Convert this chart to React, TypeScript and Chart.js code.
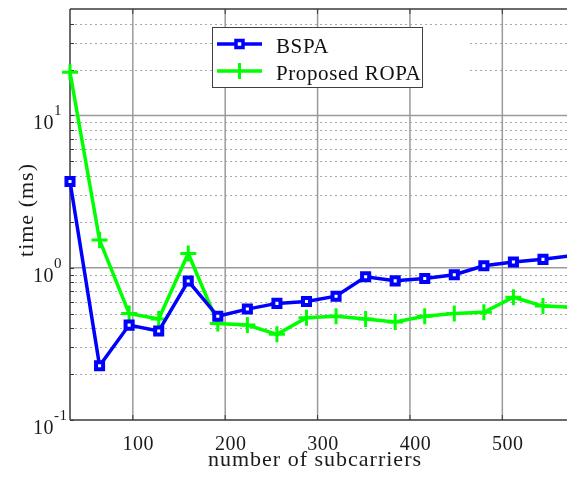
import React, { useEffect, useRef } from 'react';
import { Chart, registerables } from 'chart.js';

Chart.register(...registerables);

// ---------- data ----------
const subcarriers = [32, 64, 96, 128, 160, 192, 224, 256, 288, 320, 352, 384, 416, 448, 480, 512, 544, 576];
const bspaTime = [3.68, 0.227, 0.42, 0.384, 0.818, 0.48, 0.535, 0.583, 0.6, 0.65, 0.873, 0.82, 0.85, 0.9, 1.03, 1.09, 1.135, 1.2];
const ropaTime = [19.2, 1.52, 0.5, 0.46, 1.24, 0.43, 0.42, 0.365, 0.47, 0.48, 0.46, 0.44, 0.48, 0.5, 0.51, 0.64, 0.56, 0.55];
const seriesNames = ['BSPA', 'Proposed ROPA'];
const xTickValues = [100, 200, 300, 400, 500];
const yMajorValues = [0.1, 1, 10];
const yTickExponents = ['-1', '0', '1'];
const xAxisTitle = 'number of subcarriers';
const yAxisTitle = 'time (ms)';
const xRange = [32, 570];
const yRange = [0.1, 50];

const FONT = '"Liberation Serif", "Times New Roman", serif';
const BLUE = '#0000ff';
const GREEN = '#00ff00';

function hLine(ctx: CanvasRenderingContext2D, x1: number, x2: number, y: number) {
  ctx.beginPath();
  ctx.moveTo(x1, y);
  ctx.lineTo(x2, y);
  ctx.stroke();
}
function vLine(ctx: CanvasRenderingContext2D, x: number, y1: number, y2: number) {
  ctx.beginPath();
  ctx.moveTo(x, y1);
  ctx.lineTo(x, y2);
  ctx.stroke();
}

const matlabPlugin = {
  id: 'matlabAxes',
  beforeDatasetsDraw(chart: any) {
    const { ctx, chartArea: a, scales } = chart;
    const x = scales.x;
    const y = scales.y;
    ctx.save();
    // minor dotted grid
    ctx.strokeStyle = '#a8a8a8';
    ctx.lineWidth = 1;
    ctx.setLineDash([2, 3]);
    const minors: number[] = [];
    for (let e = -1; e <= 1; e++) {
      for (let m = 2; m <= 9; m++) {
        const v = m * Math.pow(10, e);
        if (v < yRange[1]) minors.push(v);
      }
    }
    minors.forEach((v) => {
      const py = Math.round(y.getPixelForValue(v)) + 0.5;
      hLine(ctx, a.left, a.right, py);
    });
    ctx.setLineDash([]);
    // major grid
    ctx.strokeStyle = '#9a9a9a';
    ctx.lineWidth = 1.5;
    yMajorValues.forEach((v) => {
      const py = y.getPixelForValue(v);
      if (py > a.top + 1 && py < a.bottom - 1) hLine(ctx, a.left, a.right, py);
    });
    xTickValues.forEach((v) => {
      const px = x.getPixelForValue(v);
      vLine(ctx, px, a.top, a.bottom);
    });
    // white patch near legend (matlab legend box)
    ctx.fillStyle = '#ffffff';
    ctx.fillRect(422, 30, 45, 55);
    // spines
    ctx.strokeStyle = '#3a3a3a';
    ctx.lineWidth = 1.5;
    hLine(ctx, a.left, a.right, a.bottom);
    hLine(ctx, a.left, a.right, a.top);
    vLine(ctx, a.left, a.top, a.bottom);
    // tick marks
    ctx.lineWidth = 1;
    minors.concat(yMajorValues).forEach((v) => {
      const py = Math.round(y.getPixelForValue(v)) + 0.5;
      hLine(ctx, a.left, a.left + 4, py);
    });
    xTickValues.forEach((v) => {
      const px = x.getPixelForValue(v);
      vLine(ctx, px, a.bottom, a.bottom - 5);
      vLine(ctx, px, a.top, a.top + 5);
    });
    ctx.restore();
  },
  afterDraw(chart: any) {
    const { ctx, scales } = chart;
    const x = scales.x;
    const y = scales.y;
    ctx.save();
    ctx.fillStyle = '#1a1a1a';
    // x tick labels
    ctx.font = `20px ${FONT}`;
    ctx.letterSpacing = '0.5px';
    ctx.textAlign = 'center';
    ctx.textBaseline = 'alphabetic';
    xTickValues.forEach((v) => {
      ctx.fillText(String(v), x.getPixelForValue(v) + 5.5, 450);
    });
    // y tick labels
    yMajorValues.forEach((v, i) => {
      const py = y.getPixelForValue(v);
      ctx.font = `20px ${FONT}`;
      ctx.textAlign = 'right';
      ctx.fillText('10', 54, py + 14);
      ctx.font = `15px ${FONT}`;
      ctx.textAlign = 'left';
      ctx.fillText(yTickExponents[i], 54, py);
    });
    // axis titles
    ctx.font = `22px ${FONT}`;
    ctx.letterSpacing = '1px';
    ctx.textAlign = 'center';
    ctx.fillText(xAxisTitle, 315, 466);
    ctx.save();
    ctx.translate(33, 210);
    ctx.rotate(-Math.PI / 2);
    ctx.fillText(yAxisTitle, 0, 0);
    ctx.restore();

    // legend
    const lx = 212, ly = 27, lw = 210, lh = 60;
    ctx.fillStyle = '#ffffff';
    ctx.fillRect(lx, ly, lw, lh);
    ctx.strokeStyle = '#404040';
    ctx.lineWidth = 1;
    ctx.strokeRect(lx + 0.5, ly + 0.5, lw, lh);
    const ds = chart.data.datasets;
    const rows = [44, 71];
    rows.forEach((ry, i) => {
      const d = ds[i];
      ctx.strokeStyle = d.borderColor;
      ctx.lineWidth = 3.5;
      hLine(ctx, 217, 262, ry);
      if (i === 0) {
        ctx.lineWidth = 3.5;
        ctx.fillStyle = '#ffffff';
        ctx.fillRect(236, ry - 3.5, 7, 7);
        ctx.strokeRect(236, ry - 3.5, 7, 7);
      } else {
        ctx.lineWidth = 3;
        vLine(ctx, 239.5, ry - 8, ry + 8);
      }
      ctx.fillStyle = '#111111';
      ctx.font = `21px ${FONT}`;
      ctx.letterSpacing = '0.6px';
      ctx.textAlign = 'left';
      ctx.textBaseline = 'alphabetic';
      ctx.fillText(seriesNames[i], 276, ry + 8.5);
    });
    ctx.restore();
  },
};

export default function App() {
  const ref = useRef<HTMLCanvasElement | null>(null);
  useEffect(() => {
    if (!ref.current) return;
    const chart = new Chart(ref.current, {
      type: 'line',
      data: {
        datasets: [
          {
            label: seriesNames[0],
            data: subcarriers.map((s, i) => ({ x: s, y: bspaTime[i] })),
            borderColor: BLUE,
            backgroundColor: BLUE,
            borderWidth: 3.5,
            pointStyle: 'rect',
            pointRadius: 5,
            pointBorderWidth: 4,
            pointBackgroundColor: '#ffffff',
            pointBorderColor: BLUE,
            clip: false,
          },
          {
            label: seriesNames[1],
            data: subcarriers.map((s, i) => ({ x: s, y: ropaTime[i] })),
            borderColor: GREEN,
            backgroundColor: GREEN,
            borderWidth: 3.5,
            pointStyle: 'cross',
            pointRadius: 8,
            pointBorderWidth: 3,
            pointBorderColor: GREEN,
            clip: false,
          },
        ],
      },
      options: {
        animation: false,
        responsive: false,
        events: [],
        layout: { autoPadding: false, padding: { left: 70, top: 9, right: 0, bottom: 58 } },
        plugins: { legend: { display: false }, tooltip: { enabled: false } },
        scales: {
          x: {
            type: 'linear',
            display: false,
            min: xRange[0],
            max: xRange[1],
          },
          y: {
            type: 'logarithmic',
            display: false,
            min: yRange[0],
            max: yRange[1],
          },
        },
      },
      plugins: [matlabPlugin],
    });
    return () => chart.destroy();
  }, []);
  return (
    <div style={{ position: 'fixed', left: 0, top: 0, width: 567, height: 478, overflow: 'hidden', background: '#fff' }}>
      <canvas ref={ref} width={567} height={478} style={{ display: 'block', width: 567, height: 478 }} />
    </div>
  );
}
